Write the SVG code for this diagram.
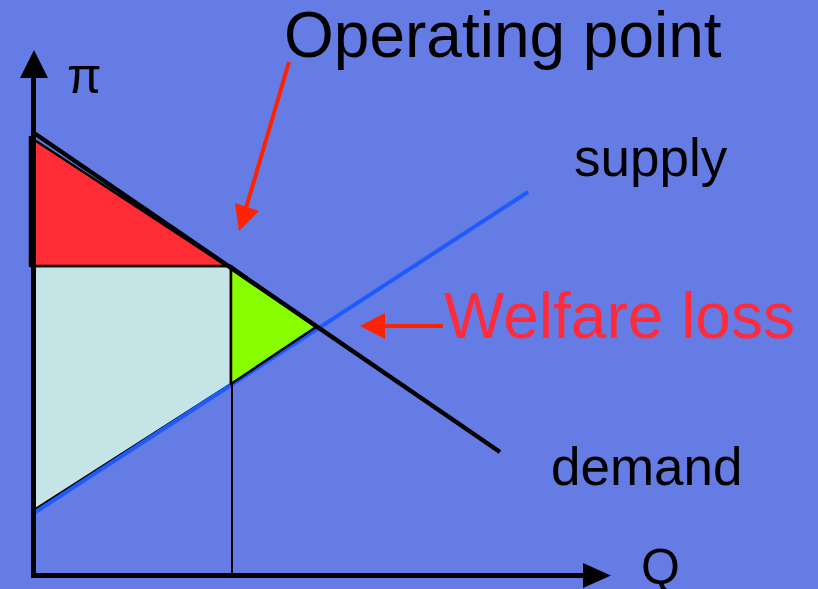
<svg xmlns="http://www.w3.org/2000/svg" width="818" height="589" viewBox="0 0 818 589">
<defs>
<style>
.lbl{font-family:"Liberation Sans",Arial,Helvetica,sans-serif;fill:#000}
.area{stroke:#000;stroke-width:2.5;stroke-linejoin:round}
.axis{stroke:#000;stroke-width:5;fill:none}
.arrow{stroke:#FF2200;stroke-width:4;fill:none}
</style>
</defs>
<rect width="818" height="589" fill="#667CE5"/>
<g id="surplus-producer">
<polygon class="area" points="34,266 231,266 231,384 34,510" fill="#C5E4E6"/>
</g>
<g id="connectors">
<line x1="34" y1="513" x2="528" y2="192" stroke="#1E5BFF" stroke-width="4"/>
</g>
<g id="welfare-loss-area">
<polygon class="area" points="231,266 316,327 231,384" fill="#88FF00"/>
</g>
<g id="surplus-consumer">
<polygon class="area" points="30,137 30,266 227,266" fill="#FF2B35"/>
</g>
<g id="demand-line">
<line x1="34" y1="133" x2="500" y2="452" stroke="#000" stroke-width="4.5"/>
<line x1="232" y1="384" x2="232" y2="573" stroke="#000" stroke-width="2"/>
</g>
<g id="axes">
<line class="axis" x1="33.5" y1="74" x2="33.5" y2="578"/>
<polygon points="20,78 48,78 34,50" fill="#000"/>
<line class="axis" x1="31" y1="575.5" x2="586" y2="575.5"/>
<polygon points="583,563 583,588 611,575.5" fill="#000"/>
<text class="lbl" x="67" y="93" font-size="50">π</text>
<text class="lbl" x="641" y="584" font-size="50">Q</text>
</g>
<g id="operating-point">
<line class="arrow" x1="289" y1="62" x2="246" y2="208"/>
<polygon points="239,231 235,203 259,211" fill="#FF2200"/>
<text class="lbl" x="284" y="57" font-size="64">Operating point</text>
</g>
<g id="welfare-loss">
<line class="arrow" x1="380" y1="326" x2="443" y2="326"/>
<polygon points="360,326 385,313 385,339" fill="#FF2200"/>
<text class="lbl" x="444" y="338" font-size="64" style="fill:#FF2B3A">Welfare loss</text>
</g>
<g id="supply-label">
<text class="lbl" x="574" y="176" font-size="53">supply</text>
</g>
<g id="demand-label">
<text class="lbl" x="551" y="485" font-size="53">demand</text>
</g>
</svg>
